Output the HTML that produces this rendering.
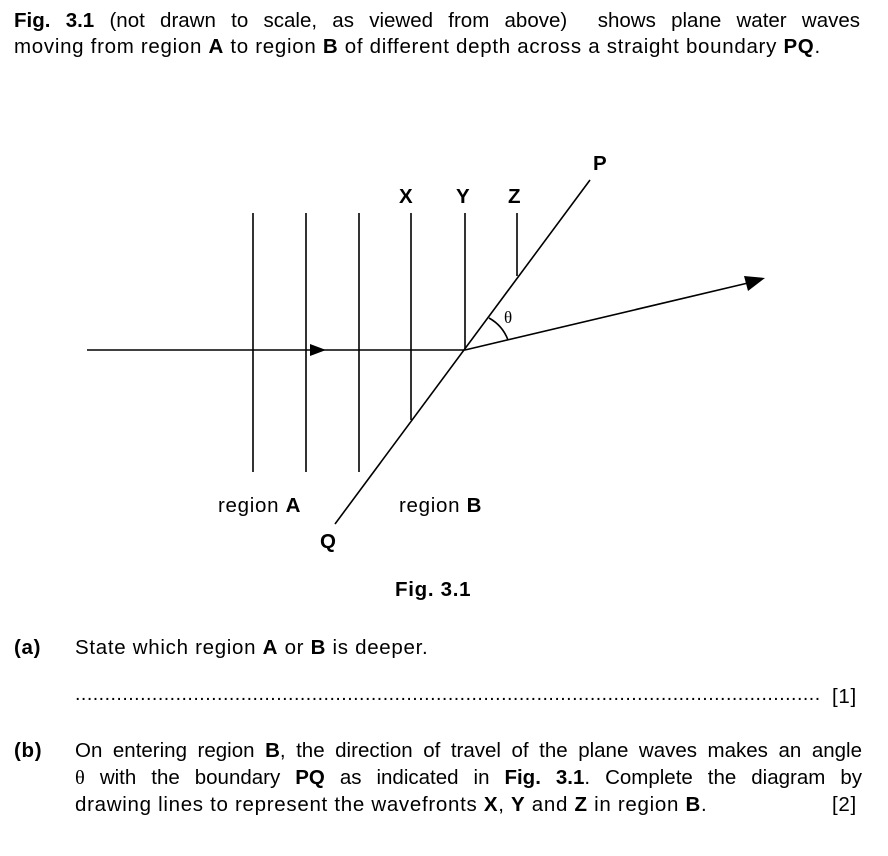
<!DOCTYPE html>
<html><head><meta charset="utf-8"><style>
html,body{margin:0;padding:0;background:#fff;}
body{width:888px;height:856px;position:relative;overflow:hidden;font-family:"Liberation Sans",Arial,sans-serif;color:#000;font-size:20.5px;letter-spacing:0.7px;}
.t{position:absolute;white-space:nowrap;line-height:1;}
.j{position:absolute;text-align:justify;text-align-last:justify;white-space:nowrap;line-height:1;letter-spacing:0;}
b{font-weight:bold;}
svg{position:absolute;left:0;top:0;}
</style></head><body>
<div class="j" style="left:14px;top:11px;width:846px;"><b>Fig. 3.1</b> (not drawn to scale, as viewed from above) &nbsp;shows plane water waves</div>
<div class="t" style="left:14px;top:37px;">moving from region <b>A</b> to region <b>B</b> of different depth across a straight boundary <b>PQ</b>.</div>

<svg width="888" height="856" viewBox="0 0 888 856">
<g stroke="#000" stroke-width="1.6" fill="none">
<line x1="253" y1="213" x2="253" y2="472"/>
<line x1="306" y1="213" x2="306" y2="472"/>
<line x1="359" y1="213" x2="359" y2="472"/>
<line x1="411" y1="213" x2="411" y2="420"/>
<line x1="465" y1="213" x2="465" y2="350"/>
<line x1="517" y1="213" x2="517" y2="276"/>
<line x1="87" y1="350" x2="465" y2="350"/>
<line x1="335" y1="524" x2="590" y2="180"/>
<line x1="465" y1="350" x2="748" y2="283"/>
<path d="M489 318 A42 42 0 0 1 508 340"/>
</g>
<polygon points="310,344 326,350 310,356" fill="#000"/>
<polygon points="744,276 765,278 748,291" fill="#000"/>
<text x="504" y="323" font-family="Liberation Serif,serif" font-size="17">θ</text>
</svg>

<div class="t" style="left:593px;top:154px;font-weight:bold;">P</div>
<div class="t" style="left:399px;top:187px;font-weight:bold;">X</div>
<div class="t" style="left:456px;top:187px;font-weight:bold;">Y</div>
<div class="t" style="left:508px;top:187px;font-weight:bold;">Z</div>
<div class="t" style="left:218px;top:496px;">region <b>A</b></div>
<div class="t" style="left:399px;top:496px;">region <b>B</b></div>
<div class="t" style="left:320px;top:532px;font-weight:bold;">Q</div>
<div class="t" style="left:395px;top:580px;font-weight:bold;">Fig. 3.1</div>

<div class="t" style="left:14px;top:638px;font-weight:bold;">(a)</div>
<div class="t" style="left:75px;top:638px;">State which region <b>A</b> or <b>B</b> is deeper.</div>
<div class="t" style="left:75px;top:685px;width:745px;overflow:hidden;letter-spacing:0.5px;font-size:19.5px;">.................................................................................................................................................</div>
<div class="t" style="left:832px;top:687px;">[1]</div>

<div class="t" style="left:14px;top:741px;font-weight:bold;">(b)</div>
<div class="j" style="left:75px;top:741px;width:787px;">On entering region <b>B</b>, the direction of travel of the plane waves makes an angle</div>
<div class="j" style="left:75px;top:768px;width:787px;"><span style="font-family:'Liberation Serif',serif;">θ</span> with the boundary <b>PQ</b> as indicated in <b>Fig. 3.1</b>. Complete the diagram by</div>
<div class="t" style="left:75px;top:795px;">drawing lines to represent the wavefronts <b>X</b>, <b>Y</b> and <b>Z</b> in region <b>B</b>.</div>
<div class="t" style="left:832px;top:795px;">[2]</div>
</body></html>
